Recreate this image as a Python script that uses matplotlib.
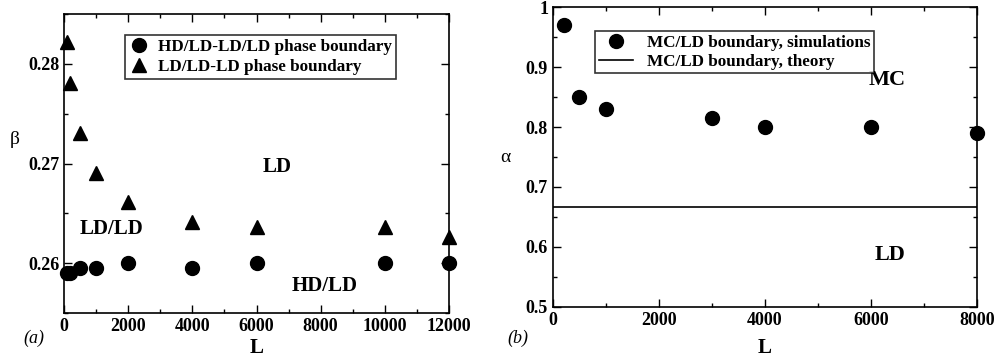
import numpy as np
import matplotlib
matplotlib.use('Agg')
import matplotlib.pyplot as plt
from matplotlib.ticker import MultipleLocator

plt.rcParams['font.family'] = 'Liberation Serif'
plt.rcParams['font.weight'] = 'bold'

# panel (a) data
L_circ = [100, 200, 500, 1000, 2000, 4000, 6000, 10000, 12000]
beta_circ = [0.259, 0.259, 0.2595, 0.2595, 0.260, 0.2595, 0.260, 0.260, 0.260]
L_tri = [100, 200, 500, 1000, 2000, 4000, 6000, 10000, 12000]
beta_tri = [0.2822, 0.2781, 0.2731, 0.2691, 0.2661, 0.2641, 0.2636, 0.2636, 0.2626]

# panel (b) data
L_sim = [200, 500, 1000, 3000, 4000, 6000, 8000]
alpha_sim = [0.97, 0.85, 0.83, 0.815, 0.80, 0.80, 0.79]
alpha_theory = 2.0 / 3.0

fig = plt.figure(figsize=(9.96, 3.61), dpi=100)
ax1 = fig.add_axes([0.0643, 0.133, 0.3865, 0.828])
ax2 = fig.add_axes([0.5552, 0.150, 0.4255, 0.830])

fs = 13.0
lfs = 12.3

def style(ax):
    ax.tick_params(which='both', direction='in', top=True, right=True, labelsize=fs)
    ax.tick_params(which='major', length=6, width=1)
    ax.tick_params(which='minor', length=3, width=1)
    for s in ax.spines.values():
        s.set_linewidth(1.2)
    for lab in ax.get_xticklabels() + ax.get_yticklabels():
        lab.set_fontweight('bold')

# (a)
ax1.plot(L_circ, beta_circ, 'o', color='black', markersize=10, clip_on=False,
         label='HD/LD-LD/LD phase boundary')
ax1.plot(L_tri, beta_tri, '^', color='black', markersize=10, clip_on=False,
         label='LD/LD-LD phase boundary')
ax1.set_xlim(0, 12000)
ax1.set_ylim(0.255, 0.285)
ax1.xaxis.set_major_locator(MultipleLocator(2000))
ax1.xaxis.set_minor_locator(MultipleLocator(1000))
ax1.yaxis.set_minor_locator(MultipleLocator(0.005))
ax1.set_yticks([0.26, 0.27, 0.28])
ax1.set_yticklabels(['0.26', '0.27', '0.28'])
ax1.set_xlabel('L', fontsize=fs + 2, fontweight='bold', va='center')
ax1.xaxis.set_label_coords(0.5, -0.117)
ax1.set_ylabel('β', fontsize=fs + 1, fontweight='normal', rotation=0, va='center', ha='center')
ax1.yaxis.set_label_coords(-0.127, 0.579)
ax1.text(6640, 0.2697, 'LD', fontsize=fs + 2, fontweight='bold', ha='center', va='center')
ax1.text(1465, 0.2634, 'LD/LD', fontsize=fs + 2, fontweight='bold', ha='center', va='center')
ax1.text(8135, 0.2577, 'HD/LD', fontsize=fs + 2, fontweight='bold', ha='center', va='center')
leg1 = ax1.legend(loc='upper center', bbox_to_anchor=(0.51, 0.93), fontsize=lfs,
                  frameon=True, fancybox=False, edgecolor='black', handletextpad=0.5,
                  borderpad=0.25, labelspacing=0.2, handlelength=1.2, borderaxespad=0)
leg1.get_frame().set_linewidth(1.2)
style(ax1)
fig.text(0.034, 0.064, '(a)', fontsize=fs, fontstyle='italic', fontweight='normal',
         ha='center', va='center')

# (b)
ax2.plot(L_sim, alpha_sim, 'o', color='black', markersize=10, clip_on=False,
         label='MC/LD boundary, simulations')
ax2.axhline(alpha_theory, color='black', linewidth=1.2, label='MC/LD boundary, theory')
ax2.set_xlim(0, 8000)
ax2.set_ylim(0.5, 1.0)
ax2.xaxis.set_major_locator(MultipleLocator(2000))
ax2.xaxis.set_minor_locator(MultipleLocator(1000))
ax2.yaxis.set_minor_locator(MultipleLocator(0.05))
ax2.set_yticks([0.5, 0.6, 0.7, 0.8, 0.9, 1.0])
ax2.set_yticklabels(['0.5', '0.6', '0.7', '0.8', '0.9', '1'])
ax2.set_xlabel('L', fontsize=fs + 2, fontweight='bold', va='center')
ax2.xaxis.set_label_coords(0.5, -0.137)
ax2.set_ylabel('α', fontsize=fs + 1, fontweight='normal', rotation=0, va='center', ha='center')
ax2.yaxis.set_label_coords(-0.112, 0.497)
ax2.text(6314, 0.879, 'MC', fontsize=fs + 3, fontweight='bold', ha='center', va='center')
ax2.text(6370, 0.587, 'LD', fontsize=fs + 3, fontweight='bold', ha='center', va='center')
leg2 = ax2.legend(loc='upper left', bbox_to_anchor=(0.10, 0.92), fontsize=lfs,
                  frameon=True, fancybox=False, edgecolor='black', handletextpad=0.8,
                  borderpad=0.2, labelspacing=0.2, handlelength=2.0, borderaxespad=0)
leg2.get_frame().set_linewidth(1.2)
style(ax2)
fig.text(0.520, 0.064, '(b)', fontsize=fs, fontstyle='italic', fontweight='normal',
         ha='center', va='center')

fig.savefig('out.png', dpi=100)
